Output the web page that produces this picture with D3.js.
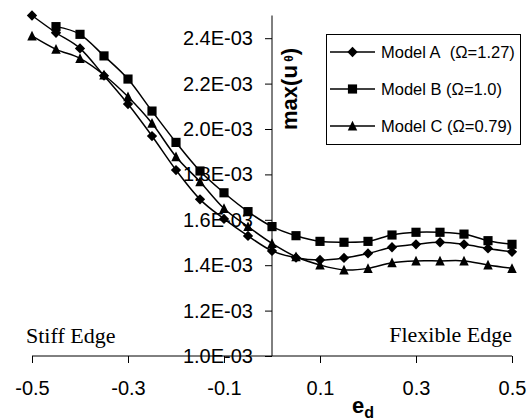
<!DOCTYPE html>
<html>
<head>
<meta charset="utf-8">
<script src="https://cdn.jsdelivr.net/npm/d3@7"></script>
<style>
body { margin: 0; background: #fff; }
svg { display: block; }
.tick text { font-family: "Liberation Sans", Arial, sans-serif; }
</style>
</head>
<body>
<div id="chart"></div>
<script>
// e_d positions along the edge
var ed = [-0.5, -0.45, -0.4, -0.35, -0.3, -0.25, -0.2, -0.15, -0.1, -0.05, 0,
          0.05, 0.1, 0.15, 0.2, 0.25, 0.3, 0.35, 0.4, 0.45, 0.5];

// max(u_theta), in units of 1E-03
var modelA = [2.50, 2.424, 2.355, 2.235, 2.110, 1.969, 1.819, 1.690, 1.604, 1.529, 1.463,
              1.433, 1.423, 1.432, 1.452, 1.479, 1.492, 1.501, 1.492, 1.474, 1.459];
var modelB = [null, 2.451, 2.417, 2.322, 2.220, 2.079, 1.941, 1.815, 1.719, 1.636, 1.570,
              1.530, 1.505, 1.501, 1.505, 1.533, 1.545, 1.545, 1.537, 1.508, 1.492];
var modelC = [2.410, 2.351, 2.311, 2.238, 2.142, 2.025, 1.878, 1.768, 1.650, 1.570, 1.496,
              1.437, 1.401, 1.379, 1.386, 1.411, 1.419, 1.419, 1.419, 1.401, 1.386];

var seriesNames = ["Model A\u00a0 (\u03a9=1.27)", "Model B (\u03a9=1.0)", "Model C (\u03a9=0.79)"];
var xTicks = [-0.5, -0.3, -0.1, 0.1, 0.3, 0.5];
var yTicks = [1.0, 1.2, 1.4, 1.6, 1.8, 2.0, 2.2, 2.4];

var width = 527, height = 420;

var x = d3.scaleLinear().domain([-0.5, 0.5]).range([32, 512]);
var y = d3.scaleLinear().domain([1.0, 2.5]).range([356, 15.5]);

var svg = d3.select("#chart").append("svg")
	.attr("width", width)
	.attr("height", height);

// symbols like the Excel markers
var diamond = { draw: function(ctx, size) {
	var r = Math.sqrt(size) / 2 * 1.25;
	ctx.moveTo(0, -r); ctx.lineTo(r, 0); ctx.lineTo(0, r); ctx.lineTo(-r, 0); ctx.closePath();
}};
var square = { draw: function(ctx, size) {
	var r = Math.sqrt(size) / 2;
	ctx.rect(-r, -r, 2 * r, 2 * r);
}};
var triangle = { draw: function(ctx, size) {
	var r = Math.sqrt(size) / 2;
	ctx.moveTo(0, -r * 1.1); ctx.lineTo(r, r * 0.95); ctx.lineTo(-r, r * 0.95); ctx.closePath();
}};

var series = [
	{ name: seriesNames[0], values: modelA, sym: d3.symbol().type(diamond).size(68) },
	{ name: seriesNames[1], values: modelB, sym: d3.symbol().type(square).size(84) },
	{ name: seriesNames[2], values: modelC, sym: d3.symbol().type(triangle).size(90) }
];

// axes
var yAxis = svg.append("g")
	.attr("transform", "translate(" + x(0) + ",0)")
	.call(d3.axisLeft(y).tickValues(yTicks).tickSize(7).tickPadding(12)
		.tickFormat(function(d) { return d.toFixed(1) + "E-03"; }));
yAxis.select(".domain").attr("d", "M0," + y(2.5) + "V" + y(1.0));
yAxis.selectAll("text").attr("font-size", 20).attr("fill", "#000");

var xAxis = svg.append("g")
	.attr("transform", "translate(0," + y(1.0) + ")")
	.call(d3.axisBottom(x).tickValues(xTicks).tickSize(7).tickPadding(18)
		.tickFormat(function(d) { return d.toFixed(1); }));
xAxis.select(".domain").attr("d", "M" + x(-0.5) + ",0H" + x(0.5));
xAxis.selectAll("text").attr("font-size", 20).attr("fill", "#000");

svg.selectAll(".domain, .tick line").attr("stroke", "#000");

// curves
var line = d3.line()
	.defined(function(d) { return d != null; })
	.curve(d3.curveCatmullRom.alpha(0))
	.x(function(d, i) { return x(ed[i]); })
	.y(function(d) { return y(d); });

series.forEach(function(s) {
	svg.append("path")
		.datum(s.values)
		.attr("d", line)
		.attr("fill", "none")
		.attr("stroke", "#000")
		.attr("stroke-width", 1.5);
});

series.forEach(function(s) {
	svg.append("g").selectAll("path")
		.data(s.values.map(function(v, i) { return { x: ed[i], v: v }; })
			.filter(function(d) { return d.v != null; }))
		.enter().append("path")
		.attr("d", s.sym)
		.attr("transform", function(d) { return "translate(" + x(d.x) + "," + y(d.v) + ")"; })
		.attr("fill", "#000");
});

// axis titles
var yt = svg.append("text")
	.attr("transform", "translate(297,89) rotate(-90)")
	.attr("text-anchor", "middle")
	.attr("font-family", "Liberation Sans, Arial, sans-serif")
	.attr("font-weight", "bold")
	.attr("font-size", 22)
	.attr("fill", "#000");
yt.append("tspan").text("max(u");
yt.append("tspan").attr("font-size", 12).attr("dy", -4).text("\u00a0\u03b8");
yt.append("tspan").attr("dy", 4).text(")");

var xt = svg.append("text")
	.attr("x", 352)
	.attr("y", 413)
	.attr("font-family", "Liberation Sans, Arial, sans-serif")
	.attr("font-weight", "bold")
	.attr("font-size", 22)
	.attr("fill", "#000");
xt.append("tspan").text("e");
xt.append("tspan").attr("font-size", 16).attr("dy", 5).text("d");

svg.append("text")
	.attr("x", 26).attr("y", 343)
	.attr("font-family", "Liberation Serif, Times New Roman, serif")
	.attr("font-size", 22)
	.text("Stiff Edge");

svg.append("text")
	.attr("x", 512).attr("y", 342)
	.attr("text-anchor", "end")
	.attr("font-family", "Liberation Serif, Times New Roman, serif")
	.attr("font-size", 22)
	.text("Flexible Edge");

// legend
var legend = svg.append("g");
legend.append("rect")
	.attr("x", 326.5).attr("y", 34.5)
	.attr("width", 194).attr("height", 110)
	.attr("fill", "#fff")
	.attr("stroke", "#000");

var item = legend.selectAll(".item")
	.data(series)
	.enter().append("g")
	.attr("transform", function(d, i) { return "translate(0," + (52 + i * 37) + ")"; });
item.append("line")
	.attr("x1", 330).attr("x2", 375)
	.attr("stroke", "#000").attr("stroke-width", 1.5);
item.append("path")
	.attr("d", function(d) { return d.sym(); })
	.attr("transform", "translate(352.5,0)");
item.append("text")
	.attr("x", 381).attr("y", 6)
	.attr("font-family", "Liberation Sans, Arial, sans-serif")
	.attr("font-size", 16.5)
	.text(function(d) { return d.name; });
</script>
</body>
</html>
